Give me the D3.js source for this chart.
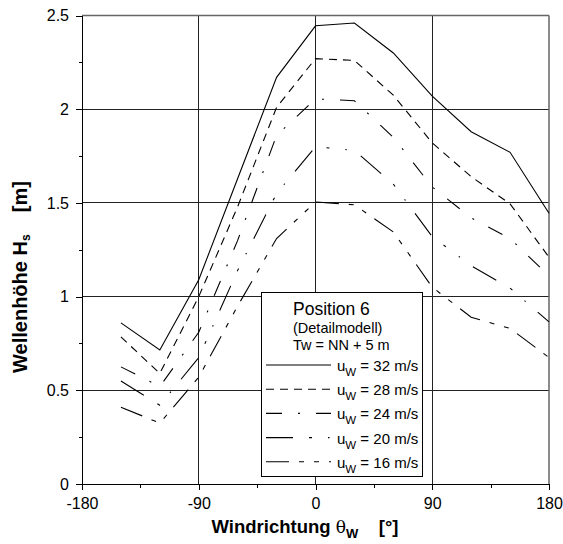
<!DOCTYPE html>
<html>
<head>
<meta charset="utf-8">
<script src="https://cdn.jsdelivr.net/npm/d3@7"></script>
<style>
body{margin:0;background:#fff;}
svg{font-family:"Liberation Sans",Arial,sans-serif;}
</style>
</head>
<body>
<svg id="chart" width="563" height="544"></svg>
<script>
// Windrichtung (Grad) und Wellenhoehen je Windgeschwindigkeit
var angles=[-150,-120,-90,-60,-30,0,30,60,90,120,150,180];
var hs32=[0.86,0.715,1.09,1.63,2.17,2.445,2.46,2.30,2.07,1.88,1.77,1.445];
var hs28=[0.785,0.59,1.0,1.48,2.01,2.27,2.26,2.075,1.82,1.64,1.495,1.21];
var hs24=[0.625,0.52,0.81,1.30,1.86,2.055,2.045,1.85,1.585,1.42,1.31,1.11];
var hs20=[0.55,0.42,0.675,1.14,1.55,1.80,1.78,1.60,1.32,1.165,1.045,0.865];
var hs16=[0.41,0.325,0.57,0.95,1.31,1.505,1.49,1.345,1.05,0.89,0.83,0.675];
var speeds=["32","28","24","20","16"];
var xTicks=[-180,-90,0,90,180];
var yTicks=[0,0.5,1,1.5,2,2.5];

var series=[hs32,hs28,hs24,hs20,hs16];
var dashes=[null,"8,6","16,16,2,16","27,16,3,16,1.5,16","23,10,5,10,5,10"];

var svg=d3.select("#chart");
var x=d3.scaleLinear().domain([-180,180]).range([82,549]);
var y=d3.scaleLinear().domain([0,2.5]).range([484,15.5]);

// gitter
svg.append("g").selectAll("line").data(yTicks.slice(1,5)).enter().append("line")
  .attr("x1",x(-180)).attr("x2",x(180)).attr("y1",d=>y(d)).attr("y2",d=>y(d))
  .attr("stroke","#222").attr("stroke-width",1).attr("shape-rendering","crispEdges");
svg.append("g").selectAll("line").data(xTicks.slice(1,4)).enter().append("line")
  .attr("x1",d=>x(d)).attr("x2",d=>x(d)).attr("y1",y(0)).attr("y2",y(2.5))
  .attr("stroke","#222").attr("stroke-width",1).attr("shape-rendering","crispEdges");
// rahmen oben / rechts
svg.append("line").attr("x1",x(-180)).attr("x2",x(180)).attr("y1",y(2.5)).attr("y2",y(2.5))
  .attr("stroke","#666").attr("stroke-width",1.5);
svg.append("line").attr("x1",x(180)).attr("x2",x(180)).attr("y1",y(0)).attr("y2",y(2.5))
  .attr("stroke","#666").attr("stroke-width",1.5);

// achsen
svg.append("g").attr("transform","translate(82,0)")
  .call(d3.axisLeft(y).tickValues(d3.range(0.25,2.5,0.5)).tickSize(3).tickFormat(""))
  .call(g=>g.select(".domain").remove());
svg.append("g").attr("transform","translate(0,484)")
  .call(d3.axisBottom(x).tickValues([-135,-45,45,135]).tickSize(4).tickFormat(""))
  .call(g=>g.select(".domain").remove());
svg.append("g").attr("transform","translate(82,0)")
  .call(d3.axisLeft(y).tickValues(yTicks).tickSize(6).tickSizeOuter(0).tickPadding(7).tickFormat(d=>String(d)))
  .call(g=>g.selectAll("text").attr("font-size",16).attr("font-family","Liberation Sans,Arial"));
svg.append("g").attr("transform","translate(0,484)")
  .call(d3.axisBottom(x).tickValues(xTicks).tickSize(6).tickSizeOuter(0).tickPadding(8).tickFormat(d=>String(d)))
  .call(g=>g.selectAll("text").attr("font-size",16).attr("font-family","Liberation Sans,Arial"));
svg.selectAll(".tick line,.domain").attr("stroke","#000").attr("shape-rendering","crispEdges");

// kurven
var line=d3.line().x((d,i)=>x(angles[i])).y(d=>y(d));
series.forEach(function(s,k){
  svg.append("path").datum(s).attr("d",line).attr("fill","none")
    .attr("stroke","#000").attr("stroke-width",1.1)
    .attr("stroke-dasharray",dashes[k]);
});

// legende
var leg=svg.append("g");
leg.append("rect").attr("x",261.5).attr("y",292.5).attr("width",161).attr("height",184)
  .attr("fill","#fff").attr("stroke","#000").attr("stroke-width",1);
leg.append("text").attr("x",293).attr("y",315).attr("font-size",17.5).text("Position 6");
leg.append("text").attr("x",293).attr("y",333).attr("font-size",14.5).text("(Detailmodell)");
leg.append("text").attr("x",293).attr("y",350).attr("font-size",14.5).text("Tw = NN + 5 m");
speeds.forEach(function(v,k){
  var ly=365+k*24.2;
  leg.append("line").attr("x1",266).attr("x2",331).attr("y1",ly).attr("y2",ly)
    .attr("stroke","#000").attr("stroke-width",1.1).attr("stroke-dasharray",dashes[k]);
  var t=leg.append("text").attr("x",337).attr("y",ly+6).attr("font-size",15);
  t.append("tspan").text("u");
  t.append("tspan").attr("font-size",11.5).attr("dy",5).text("W");
  t.append("tspan").attr("dy",-5).text(" = "+v+" m/s");
});

// achsentitel
var xt=svg.append("text").attr("x",305).attr("y",533).attr("text-anchor","middle")
  .attr("font-size",18.5).attr("font-weight","bold").attr("xml:space","preserve");
xt.append("tspan").text("Windrichtung ");
xt.append("tspan").attr("font-weight","normal").attr("font-family","DejaVu Serif").attr("font-size",17).text("θ");
xt.append("tspan").attr("font-size",13).attr("dy",5).text("W");
xt.append("tspan").attr("dy",-5).text("    [°]");

var yt=svg.append("text").attr("transform","translate(27,277) rotate(-90)").attr("text-anchor","middle")
  .attr("font-size",20).attr("font-weight","bold").attr("xml:space","preserve");
yt.append("tspan").text("Wellenhöhe H");
yt.append("tspan").attr("font-size",12).attr("dy",3).text("s");
yt.append("tspan").attr("dy",-3).text("    [m]");
</script>
</body>
</html>
